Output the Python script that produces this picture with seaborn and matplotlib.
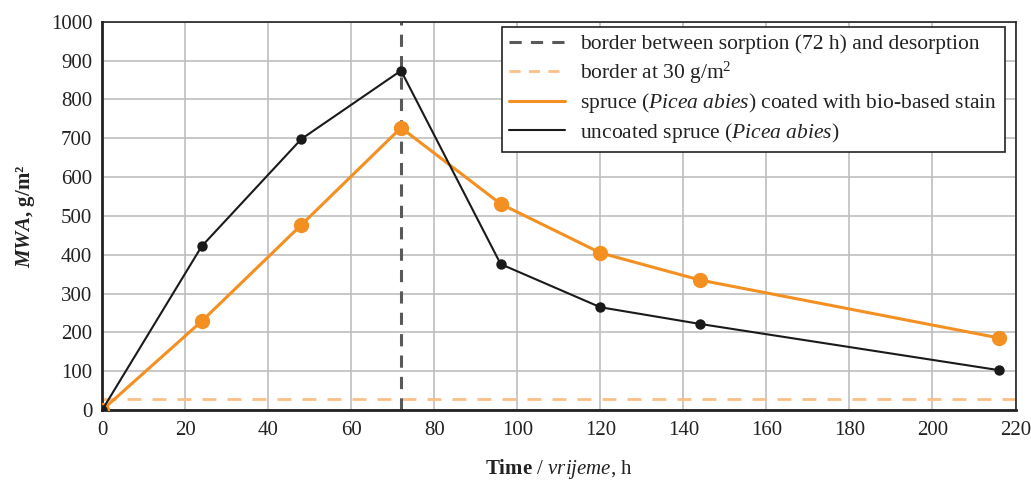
import matplotlib
matplotlib.use("Agg")
import matplotlib.pyplot as plt
from matplotlib.lines import Line2D
import seaborn as sns
import pandas as pd

# Measurement times (h) and moisture absorbed (MWA, g/m2)
hours = [0, 24, 48, 72, 96, 120, 144, 216]
uncoated = [0, 422, 698, 874, 376, 265, 222, 103]
coated = [0, 229, 477, 727, 531, 405, 335, 186]
sorption_border_h = 72
mass_border = 30

x_ticks = list(range(0, 221, 20))
y_ticks = list(range(0, 1001, 100))

sns.set_theme(style="white")
plt.rcParams["font.family"] = ["Liberation Serif", "DejaVu Serif"]
plt.rcParams["mathtext.fontset"] = "custom"
plt.rcParams["mathtext.rm"] = "Liberation Serif"
plt.rcParams["mathtext.it"] = "Liberation Serif:italic"
plt.rcParams["mathtext.bf"] = "Liberation Serif:bold"
plt.rcParams["mathtext.bfit"] = "Liberation Serif:bold:italic"

ORANGE = "#F39021"
LIGHT_ORANGE = "#FBC08A"
DARK_GREY = "#595959"
INK = "#222222"

df = pd.DataFrame({"h": hours, "uncoated": uncoated, "coated": coated})

fig = plt.figure(figsize=(10.31, 4.82), dpi=100)
ax = fig.add_axes([0.099, 0.149, 0.886, 0.806])

ax.set_xticks(x_ticks)
ax.set_yticks(y_ticks)
ax.grid(True, color="#BFBFBF", linewidth=1.2)
ax.set_axisbelow(True)

ax.axhline(mass_border, color=LIGHT_ORANGE, linestyle=(0, (5, 4)), linewidth=2, zorder=2)
ax.axvline(sorption_border_h, color=DARK_GREY, linestyle=(0, (4, 3)), linewidth=2.2, zorder=2)

sns.lineplot(data=df, x="h", y="coated", ax=ax, color=ORANGE, linewidth=2.2,
             marker="o", markersize=11, markeredgewidth=0, zorder=3)
sns.lineplot(data=df, x="h", y="uncoated", ax=ax, color="#1a1a1a", linewidth=1.5,
             marker="o", markersize=7.5, markeredgewidth=0, zorder=4)

ax.set_xlim(0, 220)
ax.set_ylim(0, 1000)
ax.tick_params(axis="both", length=0, labelsize=15, colors=INK)
ax.tick_params(axis="x", pad=8)
ax.tick_params(axis="y", pad=7)

for side in ["left", "bottom", "top", "right"]:
    ax.spines[side].set_visible(True)
    ax.spines[side].set_color(INK)
ax.spines["left"].set_linewidth(2)
ax.spines["bottom"].set_linewidth(2)
ax.spines["top"].set_linewidth(1.2)
ax.spines["right"].set_linewidth(1.2)

ax.set_xlabel(r"$\mathbf{Time}$ / $\mathit{vrijeme}$, h", fontsize=15, color=INK, labelpad=12)
ax.set_ylabel(r"$\mathbfit{MWA}$, g/m²", fontsize=15, fontweight="bold", color=INK, labelpad=10)

handles = [
    Line2D([], [], color=DARK_GREY, linestyle=(0, (4, 3)), linewidth=2.2),
    Line2D([], [], color=LIGHT_ORANGE, linestyle=(0, (4, 3)), linewidth=2),
    Line2D([], [], color=ORANGE, linewidth=2.2),
    Line2D([], [], color="#1a1a1a", linewidth=1.5),
]
labels = [
    "border between sorption (72 h) and desorption",
    r"border at 30 g/m$^2$",
    r"spruce ($\mathit{Picea\ abies}$) coated with bio-based stain",
    r"uncoated spruce ($\mathit{Picea\ abies}$)",
]
leg = ax.legend(handles, labels, loc="upper right", bbox_to_anchor=(0.988, 0.987),
                borderaxespad=0, fontsize=15.5, frameon=True, fancybox=False,
                edgecolor=INK, framealpha=1, handlelength=2.6, handletextpad=0.7,
                labelspacing=0.25, borderpad=0.35)
leg.get_frame().set_linewidth(1.2)
for t in leg.get_texts():
    t.set_color(INK)

fig.savefig("out.png", dpi=100)
